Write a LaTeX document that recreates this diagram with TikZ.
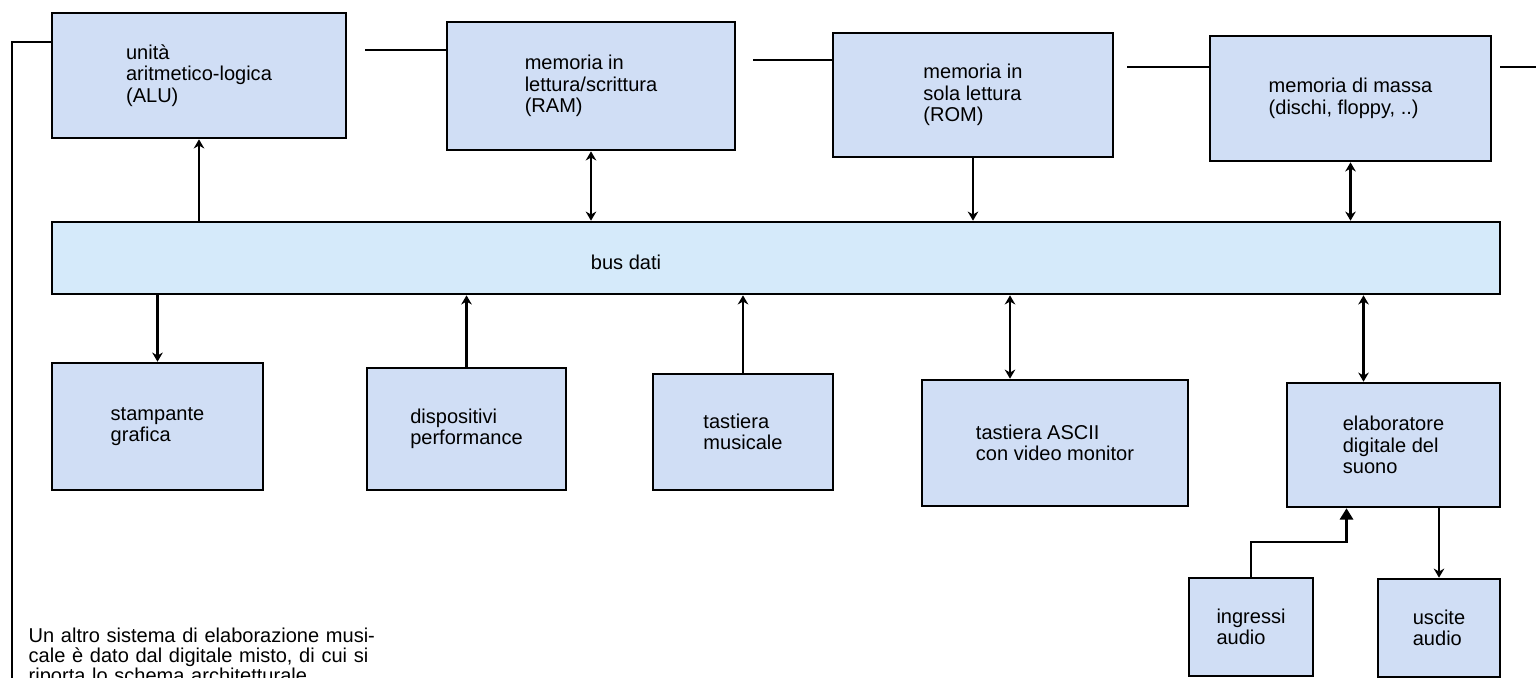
\documentclass[tikz,border=0pt]{standalone}
\usepackage{fontspec}
\setmainfont{Liberation Sans}
\usetikzlibrary{arrows.meta,calc,positioning}
\definecolor{boxblue}{RGB}{208,222,245}
\definecolor{busblue}{RGB}{213,234,250}

\begin{document}
\begin{tikzpicture}[>={Stealth[length=2.6pt,width=3pt]},
  unit/.style={draw,line width=0.75pt,fill=boxblue,align=left,inner sep=0pt,
    font=\fontsize{5.7}{6.1}\selectfont},
  link/.style={line width=0.6pt}]
  \useasboundingbox (0,0) rectangle (15.36,-6.77);
  % top row
  \node[unit,minimum width=2.94cm,minimum height=1.25cm] (alu) at (1.99,-0.755) {unità\\aritmetico-logica\\(ALU)};
  \node[unit,minimum width=2.88cm,minimum height=1.28cm] (ram) at (5.91,-0.86) {memoria in\\lettura/scrittura\\(RAM)};
  \node[unit,minimum width=2.80cm,minimum height=1.24cm] (rom) at (9.73,-0.95) {memoria in\\sola lettura\\(ROM)};
  \node[unit,minimum width=2.81cm,minimum height=1.25cm] (massa) at (13.505,-0.985) {memoria di massa\\(dischi, floppy, ..)};
  % bus
  \node[unit,fill=busblue,minimum width=14.48cm,minimum height=0.72cm] (bus) at (7.76,-2.58) {};
  \node[font=\fontsize{5.7}{6.1}\selectfont] (busname) at (6.26,-2.62) {bus dati};
  % bottom row
  \node[unit,minimum width=2.11cm,minimum height=1.27cm] (stampa) at (1.575,-4.265) {stampante\\grafica};
  \node[unit,minimum width=1.99cm,minimum height=1.22cm] (perf) at (4.665,-4.29) {dispositivi\\performance};
  \node[unit,minimum width=1.80cm,minimum height=1.16cm] (musk) at (7.43,-4.32) {tastiera\\musicale};
  \node[unit,minimum width=2.66cm,minimum height=1.26cm] (ascii) at (10.55,-4.43) {tastiera ASCII\\con video monitor};
  \node[unit,minimum width=2.13cm,minimum height=1.24cm] (dsp) at (13.935,-4.45) {elaboratore\\digitale del\\suono};
  \node[unit,minimum width=1.24cm,minimum height=0.98cm] (ingr) at (12.51,-6.27) {ingressi\\audio};
  \node[unit,minimum width=1.22cm,minimum height=0.98cm] (usc) at (14.39,-6.28) {uscite\\audio};

  % control line on top
  \coordinate (ctl) at (0.12,-0.42);
  \coordinate (ctlbot) at (0.12,-6.80);
  \coordinate (g1) at (3.65,-0.50);
  \coordinate (g2) at (7.53,-0.60);
  \coordinate (g3) at (11.27,-0.67);
  \coordinate (g4) at (15.00,-0.67);
  \coordinate (g4end) at (15.36,-0.67);
  \draw[link] (ctlbot) -- (ctl) -- (ctl -| alu.west);
  \draw[link] (g1) -- (g1 -| ram.west);
  \draw[link] (g2) -- (g2 -| rom.west);
  \draw[link] (g3) -- (g3 -| massa.west);
  \draw[link] (g4) -- (g4end);

  % bus connections
  \draw[link,->] (bus.north -| alu.south) -- (alu.south);
  \draw[link,<->] (ram.south) -- (bus.north -| ram.south);
  \draw[link,->] (rom.south) -- (bus.north -| rom.south);
  \draw[link,<->] (massa.south) -- (bus.north -| massa.south);
  \draw[link,->] (bus.south -| stampa.north) -- (stampa.north);
  \draw[link,->] (perf.north) -- (bus.south -| perf.north);
  \draw[link,->] (musk.north) -- (bus.south -| musk.north);
  \coordinate (c5) at ($(ascii.north)+(-0.45,0)$);
  \draw[link,<->] (bus.south -| c5) -- (c5);
  \coordinate (c6) at ($(dsp.north)+(-0.30,0)$);
  \draw[link,<->] (bus.south -| c6) -- (c6);

  % audio
  \draw[link,-{Triangle[length=3.2pt,width=3.8pt]}] (ingr.north) -- ++(0,0.35) -| ($(dsp.south)+(-0.47,0)$);
  \draw[link,->] (dsp.south -| usc.north) -- (usc.north);

  % caption
  \node[anchor=north west,inner sep=0pt,text width=4.37cm,font=\fontsize{5.7}{5.7}\selectfont] (caption) at (0.28,-6.27)
    {Un altro sistema di elaborazione musi-\linebreak cale è dato dal digitale misto, di cui si\linebreak riporta lo schema architetturale.};
\end{tikzpicture}
\end{document}
